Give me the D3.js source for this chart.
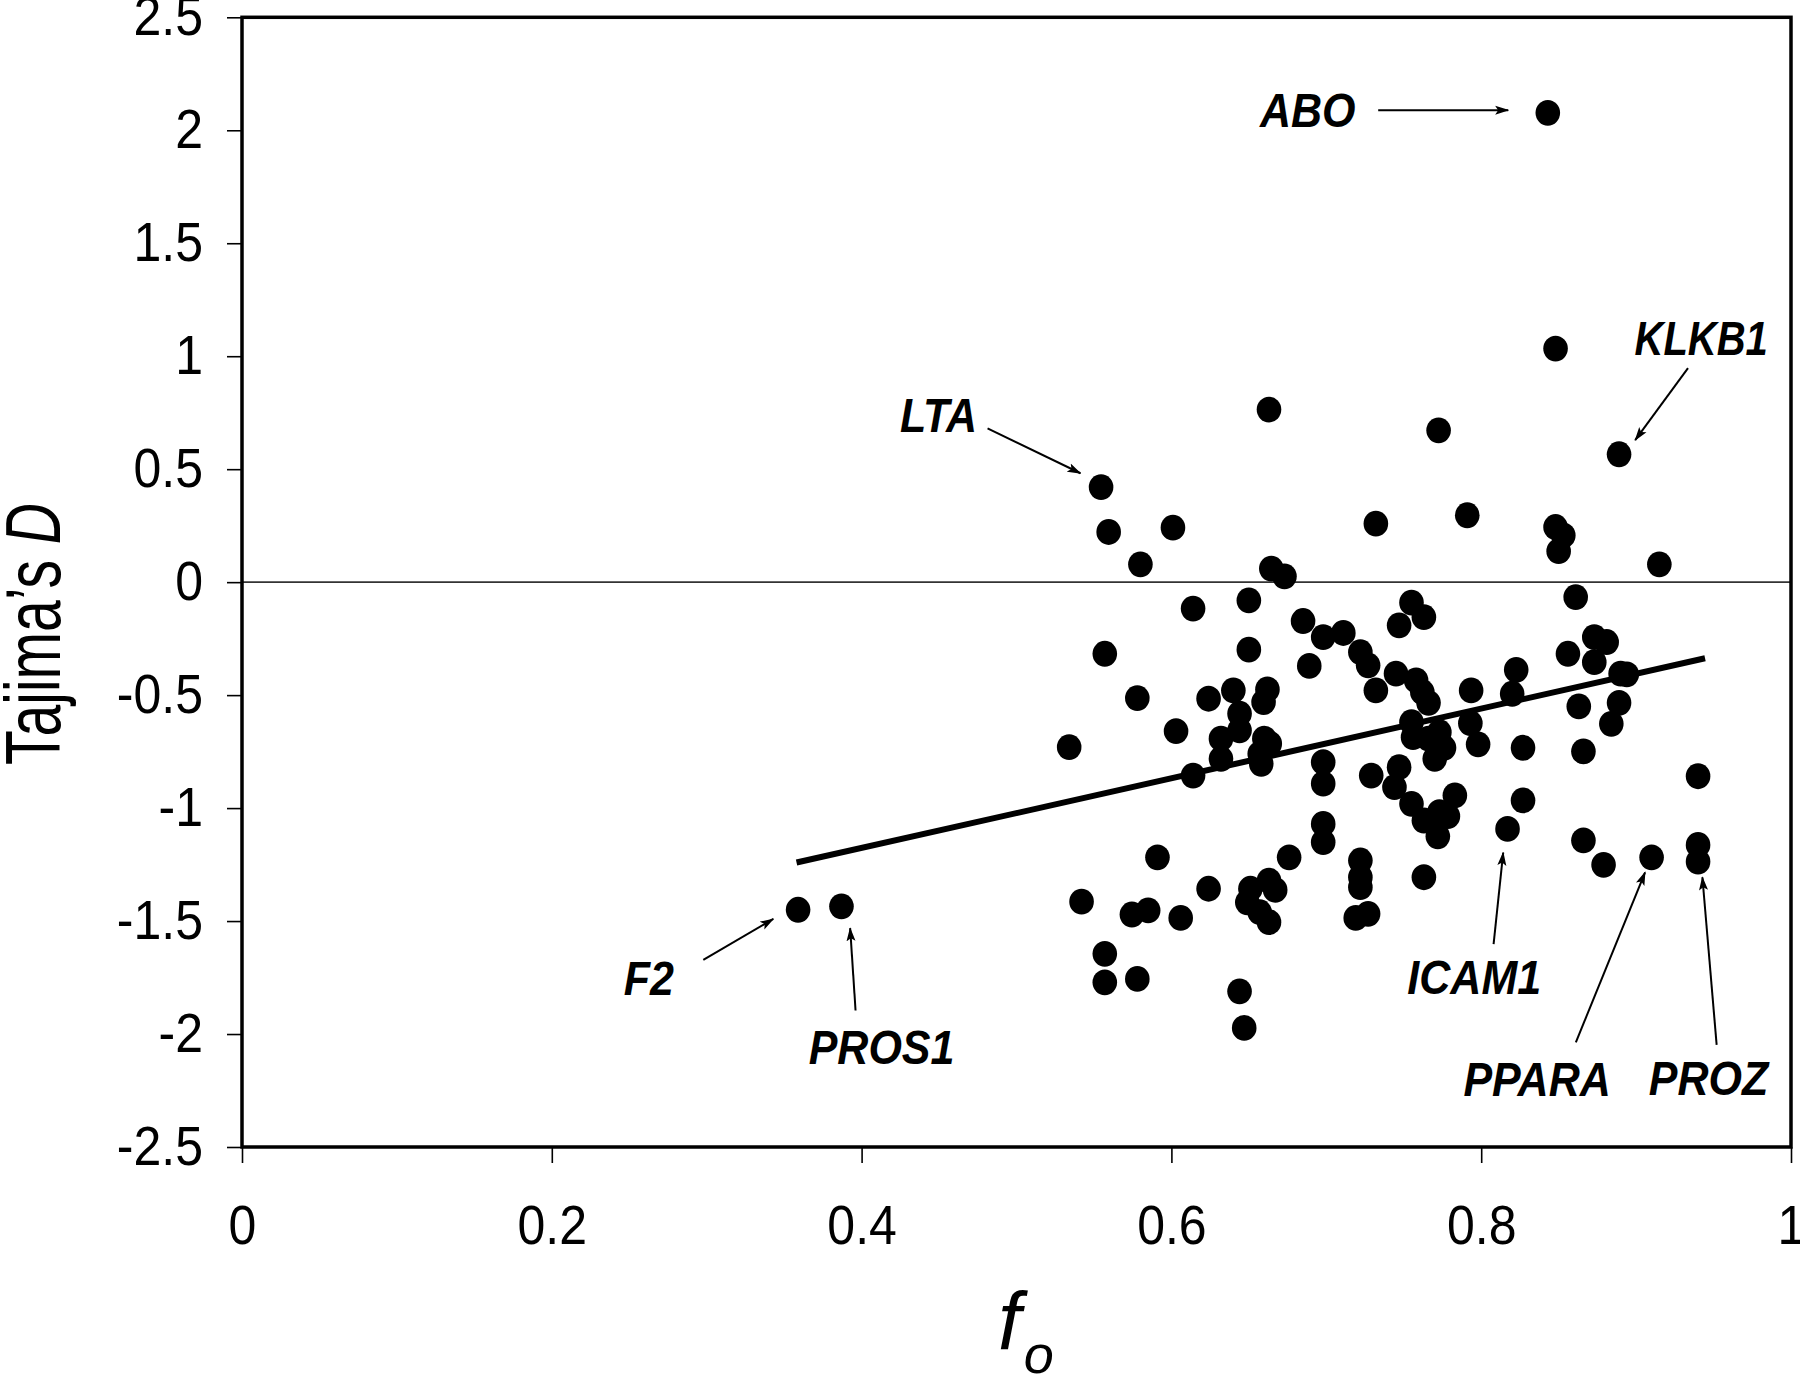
<!DOCTYPE html>
<html><head><meta charset="utf-8">
<script src="https://cdn.jsdelivr.net/npm/d3@7"></script>
<style>html,body{margin:0;padding:0;background:#fff}svg{display:block}</style>
</head><body><svg id="chart" width="1800" height="1380"></svg>
<script>
// ---- data ----
const xTicks = [0, 0.2, 0.4, 0.6, 0.8, 1];
const xTickLabels = ["0", "0.2", "0.4", "0.6", "0.8", "1"];
const yTicks = [2.5, 2, 1.5, 1, 0.5, 0, -0.5, -1, -1.5, -2, -2.5];
const yTickLabels = ["2.5", "2", "1.5", "1", "0.5", "0", "-0.5", "-1", "-1.5", "-2", "-2.5"];

const fo = [0.843, 0.848, 0.663, 0.7725, 0.889, 0.5546, 0.5595, 0.601, 0.580, 0.732,
  0.791, 0.848, 0.853, 0.850, 0.915, 0.6645, 0.673, 0.614, 0.650, 0.685,
  0.755, 0.763, 0.747, 0.698, 0.711, 0.861, 0.557, 0.650, 0.689, 0.722,
  0.727, 0.745, 0.732, 0.758, 0.762, 0.766, 0.7935, 0.578, 0.624, 0.640,
  0.644, 0.644, 0.662, 0.6595, 0.603, 0.632, 0.632, 0.660, 0.6635, 0.657,
  0.658, 0.534, 0.614, 0.698, 0.698, 0.729, 0.755, 0.756, 0.766, 0.773,
  0.776, 0.770, 0.793, 0.798, 0.873, 0.881, 0.856, 0.873, 0.8226, 0.820,
  0.890, 0.894, 0.863, 0.889, 0.884, 0.827, 0.866, 0.940, 0.783, 0.7785,
  0.772, 0.827, 0.817, 0.866, 0.879, 0.910, 0.940, 0.940, 0.747, 0.744,
  0.755, 0.763, 0.773, 0.763, 0.698, 0.698, 0.676, 0.722, 0.722, 0.722,
  0.591, 0.542, 0.624, 0.651, 0.649, 0.657, 0.663, 0.667, 0.5745, 0.585,
  0.606, 0.719, 0.727, 0.557, 0.557, 0.578, 0.644, 0.647, 0.359, 0.387,
  0.663];
const tajimaD = [2.077, 1.034, 0.764, 0.672, 0.566, 0.421, 0.222, 0.241, 0.079, 0.259,
  0.296, 0.244, 0.207, 0.137, 0.079, 0.060, 0.026, -0.117, -0.081, -0.172,
  -0.091, -0.155, -0.191, -0.243, -0.225, -0.066, -0.317, -0.299, -0.371, -0.310,
  -0.368, -0.405, -0.479, -0.435, -0.487, -0.534, -0.479, -0.513, -0.516, -0.479,
  -0.582, -0.656, -0.475, -0.531, -0.659, -0.693, -0.782, -0.693, -0.715, -0.760,
  -0.804, -0.730, -0.856, -0.797, -0.892, -0.856, -0.620, -0.686, -0.693, -0.664,
  -0.733, -0.782, -0.624, -0.718, -0.243, -0.265, -0.317, -0.354, -0.388, -0.494,
  -0.405, -0.408, -0.550, -0.534, -0.627, -0.733, -0.749, -0.859, -0.944, -1.036,
  -1.125, -0.966, -1.092, -1.143, -1.251, -1.218, -1.163, -1.237, -0.819, -0.907,
  -0.981, -1.055, -1.018, -1.306, -1.070, -1.151, -1.218, -1.232, -1.306, -1.350,
  -1.218, -1.414, -1.357, -1.357, -1.417, -1.461, -1.505, -1.362, -1.471, -1.453,
  -1.486, -1.486, -1.468, -1.645, -1.771, -1.756, -1.811, -1.973, -1.450, -1.435,
  -1.321];

// regression line end points
const fitFo = [0.358, 0.9445];
const fitD = [-1.241, -0.337];

// labelled genes
const geneNames = ["ABO", "KLKB1", "LTA", "F2", "PROS1", "ICAM1", "PPARA", "PROZ"];

// ---- annotation layout (in data units) ----
const labelAnchor = [[0.688, 2.014], [0.942, 1.004], [0.4497, 0.665], [0.2626, -1.826],
  [0.4129, -2.131], [0.7955, -1.821], [0.8361, -2.273], [0.9468, -2.268]];
const arrowFrom = [[0.7335, 2.089], [0.9335, 0.947], [0.4813, 0.681], [0.2978, -1.672],
  [0.3961, -1.896], [0.808, -1.602], [0.8611, -2.037], [0.952, -2.048]];
const arrowTo = [[0.8174, 2.089], [0.8994, 0.6285], [0.5413, 0.482], [0.343, -1.4907],
  [0.3926, -1.5315], [0.8142, -1.197], [0.9058, -1.284], [0.9428, -1.306]];

// ---- drawing ----
const FONT = "'Liberation Sans', Arial, Helvetica, sans-serif";
const svg = d3.select("#chart");
svg.append("rect").attr("width", 1800).attr("height", 1380).attr("fill", "#fff");

const x = d3.scaleLinear().domain([0, 1]).range([242, 1791]);
const y = d3.scaleLinear().domain([-2.5, 2.5]).range([1147, 17.3]);

// text slightly taller than the font's natural proportions (as in the reference)
function tallText(sel, size, factor, widthScale) {
  sel.each(function () {
    const t = d3.select(this);
    t.style("font-size", size + "px");
    const w = this.getComputedTextLength() * (widthScale || 1);
    t.style("font-size", (size * factor) + "px")
      .attr("textLength", w).attr("lengthAdjust", "spacingAndGlyphs");
  });
}

const defs = svg.append("defs");
defs.append("marker").attr("id", "arrow")
  .attr("markerUnits", "userSpaceOnUse")
  .attr("viewBox", "0 0 14 10").attr("markerWidth", 14).attr("markerHeight", 10)
  .attr("refX", 13).attr("refY", 5).attr("orient", "auto")
  .append("path").attr("d", "M0,0.5 L14,5 L0,9.5 L3,5 Z").attr("fill", "#000");

// zero line
svg.append("line")
  .attr("x1", x(0)).attr("x2", x(1)).attr("y1", y(0)).attr("y2", y(0))
  .attr("stroke", "#333").attr("stroke-width", 1.6);

// axes
const yAxis = svg.append("g").attr("transform", `translate(${x(0)},0)`)
  .call(d3.axisLeft(y).tickValues(yTicks)
    .tickFormat(d => yTickLabels[yTicks.indexOf(d)])
    .tickSize(15).tickPadding(24));
const xAxis = svg.append("g").attr("transform", `translate(0,${y(-2.5)})`)
  .call(d3.axisBottom(x).tickValues(xTicks)
    .tickFormat(d => xTickLabels[xTicks.indexOf(d)])
    .tickSize(16).tickPadding(42));
[yAxis, xAxis].forEach(g => {
  g.select(".domain").remove();
  g.selectAll(".tick line").attr("stroke", "#000").attr("stroke-width", 1.6);
  g.selectAll(".tick text").attr("fill", "#000").style("font-family", FONT);
  tallText(g.selectAll(".tick text"), 50, 1.1);
});

// regression line
svg.append("line")
  .attr("x1", x(fitFo[0])).attr("y1", y(fitD[0]))
  .attr("x2", x(fitFo[1])).attr("y2", y(fitD[1]))
  .attr("stroke", "#000").attr("stroke-width", 6);

// points
svg.append("g").selectAll("ellipse")
  .data(fo.map((v, i) => [v, tajimaD[i]]))
  .join("ellipse")
  .attr("cx", d => x(d[0])).attr("cy", d => y(d[1]))
  .attr("rx", 12.3).attr("ry", 12.9).attr("fill", "#000");

// annotations
const ann = svg.append("g");
geneNames.forEach((name, i) => {
  ann.append("line")
    .attr("x1", x(arrowFrom[i][0])).attr("y1", y(arrowFrom[i][1]))
    .attr("x2", x(arrowTo[i][0])).attr("y2", y(arrowTo[i][1]))
    .attr("stroke", "#000").attr("stroke-width", 2)
    .attr("marker-end", "url(#arrow)");
  const t = ann.append("text")
    .attr("x", x(labelAnchor[i][0])).attr("y", y(labelAnchor[i][1]))
    .attr("text-anchor", "middle")
    .style("font-family", FONT)
    .style("font-weight", "bold").style("font-style", "italic")
    .text(name);
  tallText(t, 43, 1.1, name === "KLKB1" ? 0.93 : 1);
});

// frame
svg.append("rect")
  .attr("x", x(0)).attr("y", y(2.5))
  .attr("width", x(1) - x(0)).attr("height", y(-2.5) - y(2.5))
  .attr("fill", "none").attr("stroke", "#000").attr("stroke-width", 3.5);

// axis titles
const yt = svg.append("text")
  .attr("transform", "translate(60,634) rotate(-90)")
  .attr("text-anchor", "middle")
  .style("font-family", FONT).style("font-size", "78px")
  .attr("textLength", 262).attr("lengthAdjust", "spacingAndGlyphs");
yt.append("tspan").text("Tajima\u2019s ");
yt.append("tspan").style("font-style", "italic").text("D");

const xt = svg.append("text")
  .attr("x", 998).attr("y", 1349)
  .style("font-family", FONT).style("font-style", "italic");
xt.append("tspan").style("font-size", "82px").text("f");
xt.append("tspan").style("font-size", "54px").attr("dy", 24).attr("dx", 3).text("o");
</script></body></html>
